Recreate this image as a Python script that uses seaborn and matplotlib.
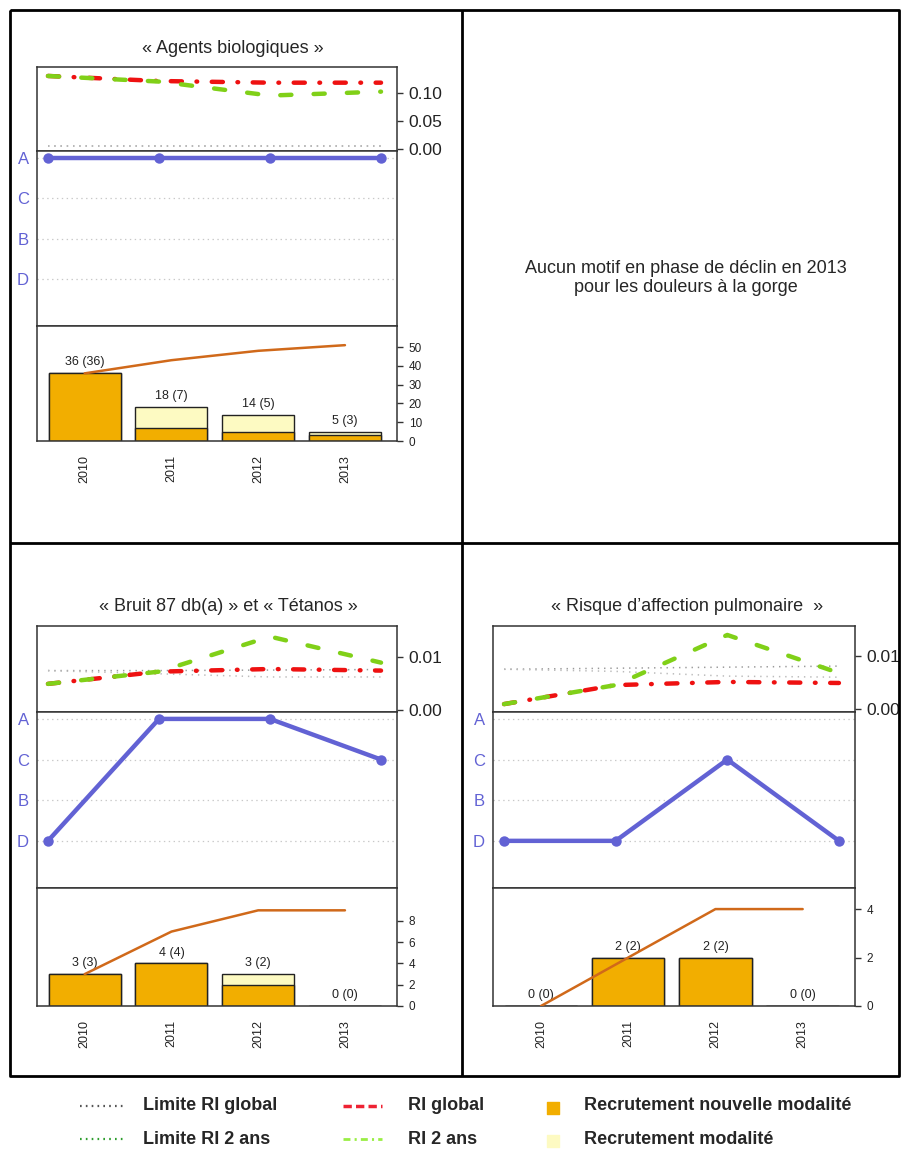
"""Recreate the 3-panel 'phase de déclin' chart with seaborn."""
import matplotlib
matplotlib.use("Agg")
import matplotlib.pyplot as plt
import numpy as np
import seaborn as sns

W, H = 901, 1151

years = ["2010", "2011", "2012", "2013"]
phase_pos = {"D": 0, "B": 1, "C": 2, "A": 3}

# « Agents biologiques »
bio_ri_global = [0.130, 0.121, 0.118, 0.118]
bio_ri_2ans = [0.130, 0.120, 0.095, 0.102]
bio_lim_global = [0.005, 0.005, 0.005, 0.005]
bio_lim_2ans = [0.005, 0.005, 0.005, 0.005]
bio_phase = ["A", "A", "A", "A"]
bio_total = [36, 18, 14, 5]
bio_new = [36, 7, 5, 3]
bio_cumul = [36, 43, 48, 51]

# « Bruit 87 db(a) » et « Tétanos »
bruit_ri_global = [0.0049, 0.0072, 0.0077, 0.0074]
bruit_ri_2ans = [0.0049, 0.0072, 0.0138, 0.0089]
bruit_lim_global = [0.0074, 0.0074, 0.0075, 0.0076]
bruit_lim_2ans = [0.0074, 0.0068, 0.0062, 0.0062]
bruit_phase = ["D", "A", "A", "C"]
bruit_total = [3, 4, 3, 0]
bruit_new = [3, 4, 2, 0]
bruit_cumul = [3, 7, 9, 9]

# « Risque d'affection pulmonaire »
pulm_ri_global = [0.0009, 0.0045, 0.0051, 0.0049]
pulm_ri_2ans = [0.0009, 0.0045, 0.0140, 0.0068]
pulm_lim_global = [0.0075, 0.0077, 0.0079, 0.0081]
pulm_lim_2ans = [0.0075, 0.0071, 0.0062, 0.0060]
pulm_phase = ["D", "D", "C", "D"]
pulm_total = [0, 2, 2, 0]
pulm_new = [0, 2, 2, 0]
pulm_cumul = [0, 2, 4, 4]

sns.set_theme(style="white")
plt.rcParams["font.family"] = ["Liberation Sans", "DejaVu Sans"]
plt.rcParams["lines.scale_dashes"] = False

ORANGE = "#f2ae00"
PALE = "#fdfac2"
CUMUL = "#d0691a"
RED = "#ee1111"
GREEN = "#80d018"
BLUE = "#6262d4"
SPINE = "#333333"

fig = plt.figure(figsize=(W / 100, H / 100), dpi=100)


def px_axes(x0, y0, x1, y1):
    return fig.add_axes([x0 / W, 1 - y1 / H, (x1 - x0) / W, (y1 - y0) / H])


def frame(ax):
    for s in ax.spines.values():
        s.set_visible(True)
        s.set_color(SPINE)
        s.set_linewidth(1.1)


def draw_panel(x0, x1, ys, ri_global, ri_2ans, lim_global, lim_2ans,
               ri_ylim, ri_ticks, ri_labels, phase, total, new, cumul,
               bar_ylim, bar_ticks):
    y_ri, y_mid, y_bar, y_end = ys
    xs = np.arange(len(years))
    xlim = (-0.099, 3.144)

    # RI lines
    ax1 = px_axes(x0, y_ri, x1, y_mid)
    sns.lineplot(x=xs, y=lim_global, color="#999999", lw=1.1,
                 linestyle=(0, (1, 3.5)), ax=ax1)
    sns.lineplot(x=xs, y=lim_2ans, color="#bbbbbb", lw=1.1,
                 linestyle=(0, (1, 3.5)), ax=ax1)
    sns.lineplot(x=xs, y=ri_global, color=RED, lw=3.2,
                 linestyle=(0, (8, 10.5, 0.5, 10.5)), dash_capstyle="round", ax=ax1)
    sns.lineplot(x=xs, y=ri_2ans, color=GREEN, lw=3.2,
                 linestyle=(0, (8, 16)), dash_capstyle="round", ax=ax1)
    ax1.set_xlim(*xlim)
    ax1.set_ylim(*ri_ylim)
    ax1.set_xticks([])
    ax1.yaxis.tick_right()
    ax1.set_yticks(ri_ticks)
    ax1.set_yticklabels(ri_labels)
    ax1.tick_params(axis="y", right=True, length=4.5, width=1, color=SPINE,
                    labelsize=12.5, labelcolor="#222222", pad=4)
    frame(ax1)

    # phase A/B/C/D
    ax2 = px_axes(x0, y_mid, x1, y_bar)
    yp = [phase_pos[p] for p in phase]
    sns.lineplot(x=xs, y=yp, color=BLUE, lw=3.2, marker="o", markersize=7.5,
                 markeredgewidth=0, ax=ax2)
    ax2.set_xlim(*xlim)
    ax2.set_ylim(-1.16, 3.17)
    ax2.set_xticks([])
    ax2.set_yticks(list(phase_pos.values()))
    ax2.set_yticklabels(list(phase_pos.keys()))
    ax2.yaxis.grid(True, linestyle=(0, (1, 2.5)), color="#c8c8c8", lw=0.9)
    ax2.set_axisbelow(True)
    ax2.tick_params(axis="y", left=False, length=0, labelsize=12,
                    labelcolor=BLUE, pad=6)
    ax2.set_ylabel("")
    frame(ax2)

    # recruitment bars
    ax3 = px_axes(x0, y_bar, x1, y_end)
    sns.barplot(x=years, y=total, color=PALE, saturation=1, width=0.83,
                edgecolor="#222222", linewidth=1, ax=ax3)
    sns.barplot(x=years, y=new, color=ORANGE, saturation=1, width=0.83,
                edgecolor="#222222", linewidth=1, ax=ax3)
    sns.lineplot(x=xs, y=cumul, color=CUMUL, lw=1.8, ax=ax3, zorder=5)
    for i, (t, n) in enumerate(zip(total, new)):
        ax3.annotate(f"{t} ({n})", (i, t), xytext=(0, 3.5),
                     textcoords="offset points", ha="center", va="bottom",
                     fontsize=9, color="#222222")
    ax3.set_xlim(-0.55, 3.6)
    ax3.set_ylim(*bar_ylim)
    ax3.yaxis.tick_right()
    ax3.set_yticks(bar_ticks)
    ax3.tick_params(axis="y", right=True, length=4.5, width=1, color=SPINE,
                    labelsize=8.5, labelcolor="#222222", pad=4)
    ax3.tick_params(axis="x", length=0, labelsize=9, labelcolor="#222222",
                    pad=10, labelrotation=90)
    ax3.set_xlabel("")
    ax3.set_ylabel("")
    frame(ax3)


draw_panel(37, 397, (67, 151, 326, 441), bio_ri_global, bio_ri_2ans,
           bio_lim_global, bio_lim_2ans, (-0.004, 0.146), [0, 0.05, 0.10],
           ["0.00", "0.05", "0.10"], bio_phase, bio_total, bio_new, bio_cumul,
           (0, 61.2), [0, 10, 20, 30, 40, 50])

draw_panel(37, 397, (626, 712, 888, 1006), bruit_ri_global, bruit_ri_2ans,
           bruit_lim_global, bruit_lim_2ans, (-0.0004, 0.0158), [0, 0.01],
           ["0.00", "0.01"], bruit_phase, bruit_total, bruit_new, bruit_cumul,
           (0, 11.1), [0, 2, 4, 6, 8])

draw_panel(493, 855, (626, 712, 888, 1006), pulm_ri_global, pulm_ri_2ans,
           pulm_lim_global, pulm_lim_2ans, (-0.0006, 0.0157), [0, 0.01],
           ["0.00", "0.01"], pulm_phase, pulm_total, pulm_new, pulm_cumul,
           (0, 4.87), [0, 2, 4])

# overlay in pixel coordinates: frame, titles, message, legend
ov = fig.add_axes([0, 0, 1, 1])
ov.set_xlim(0, W)
ov.set_ylim(H, 0)
ov.axis("off")

kw = dict(color="black", lw=2, solid_capstyle="butt")
ov.plot([10, 899, 899, 10, 10], [10, 10, 1076, 1076, 10], **kw)
ov.plot([462, 462], [10, 1076], **kw)
ov.plot([10, 899], [543, 543], **kw)

ov.text(233, 48, "« Agents biologiques »", fontsize=13, ha="center", va="center")
ov.text(228, 606, "« Bruit 87 db(a) » et « Tétanos »", fontsize=13,
        ha="center", va="center")
ov.text(687, 606, "« Risque d’affection pulmonaire  »", fontsize=13,
        ha="center", va="center")
ov.text(686, 278, "Aucun motif en phase de déclin en 2013\npour les douleurs à la gorge",
        fontsize=13, ha="center", va="center", linespacing=1.1)

r1, r2 = 1106, 1139
ov.plot([80, 125], [r1, r1], color="#555555", lw=1.6, linestyle=(0, (1.2, 3)))
ov.plot([80, 125], [r2, r2], color="#2e9e2e", lw=1.6, linestyle=(0, (1.2, 3)))
ov.plot([343, 382], [r1, r1], color="#ee2233", lw=2.5, linestyle=(0, (6, 3)))
ov.plot([343, 382], [r2, r2], color="#99ee44", lw=2, linestyle=(0, (5, 3, 1.5, 3)))
ov.scatter([553], [r1 + 2], marker="s", s=80, color=ORANGE)
ov.scatter([553], [r2 + 2], marker="s", s=80, color=PALE)
lkw = dict(fontsize=13, fontweight="bold", va="center", ha="left")
ov.text(143, r1, "Limite RI global", **lkw)
ov.text(143, r2, "Limite RI 2 ans", **lkw)
ov.text(408, r1, "RI global", **lkw)
ov.text(408, r2, "RI 2 ans", **lkw)
ov.text(584, r1, "Recrutement nouvelle modalité", **lkw)
ov.text(584, r2, "Recrutement modalité", **lkw)

fig.savefig("out.png", dpi=100)
plt.close(fig)
